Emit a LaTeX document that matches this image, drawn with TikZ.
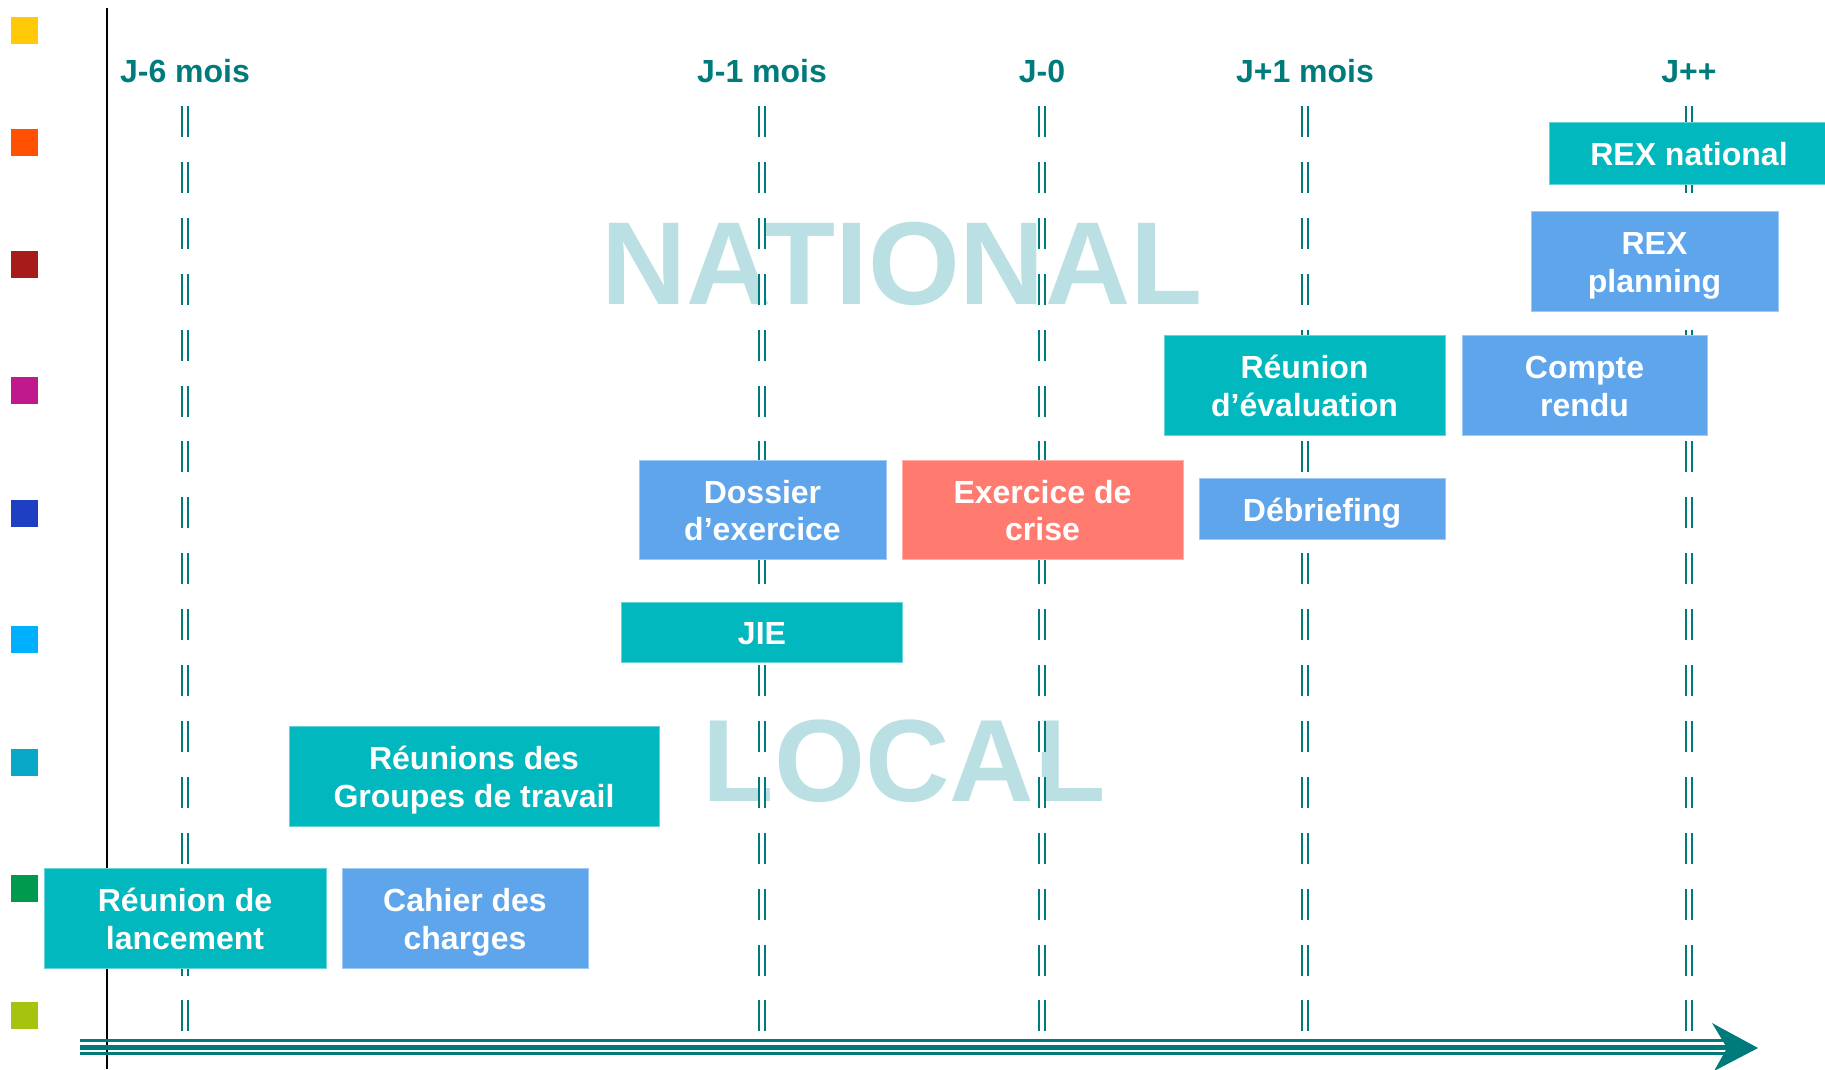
\documentclass[tikz,border=0pt]{standalone}
\usepackage{fontspec}
\setmainfont{Liberation Sans}
\definecolor{sarcelle}{HTML}{007B7B}
\definecolor{filigrane}{HTML}{BBE0E3}
\definecolor{turquoise}{HTML}{00B8BD}
\definecolor{bleuclair}{HTML}{5EA5EB}
\definecolor{saumon}{HTML}{FF7B70}
\definecolor{carreA}{HTML}{FFC907}
\definecolor{carreB}{HTML}{FF5003}
\definecolor{carreC}{HTML}{A71B1B}
\definecolor{carreD}{HTML}{C0198E}
\definecolor{carreE}{HTML}{1F3FC2}
\definecolor{carreF}{HTML}{00B0FF}
\definecolor{carreG}{HTML}{07A9C6}
\definecolor{carreH}{HTML}{009A4E}
\definecolor{carreI}{HTML}{A6C40F}
\newcommand{\bornes}[1]{\rule{0pt}{33pt}#1\rule[-8pt]{0pt}{8pt}}
\begin{document}
\begin{tikzpicture}[x=1pt,y=-1pt,
	jalon/.style={text=sarcelle,font=\fontsize{32}{37}\selectfont\bfseries,anchor=base,inner sep=0pt},
	boite/.style={font=\fontsize{32}{37.7}\selectfont\bfseries,text=white,align=center,inner sep=0pt,line width=1pt},
	colonne/.style={draw=sarcelle,double=white,line width=2.3pt,double distance=4.3pt,dash pattern=on 31pt off 24.9pt}]
	\useasboundingbox (0,0) rectangle (1825,1069);
	\coordinate (J6) at (185,106);
	\coordinate (J1) at (762,106);
	\coordinate (J0) at (1042,106);
	\coordinate (JP1) at (1305,106);
	\coordinate (JPP) at (1689,106);
	\node[text=filigrane,font=\fontsize{118}{118}\selectfont\bfseries,anchor=base] (national) at (902,304) {NATIONAL};% watermark
	\node[text=filigrane,font=\fontsize{117}{117}\selectfont\bfseries,anchor=base] (local) at (904,801) {LOCAL};
	\fill[carreA] (11,17) rectangle ++(27,27);% legend squares
	\fill[carreB] (11,129) rectangle ++(27,27);
	\fill[carreC] (11,250.5) rectangle ++(27,27);
	\fill[carreD] (11,376.5) rectangle ++(27,27);
	\fill[carreE] (11,499.5) rectangle ++(27,27);
	\fill[carreF] (11,625.5) rectangle ++(27,27);
	\fill[carreG] (11,748.5) rectangle ++(27,27);
	\fill[carreH] (11,875) rectangle ++(27,27);
	\fill[carreI] (11,1002) rectangle ++(27,27);
	\draw[line width=2pt] (107,8) -- (107,1069);% vertical axis
	\draw[colonne] (J6) -- ++(0,925);
	\draw[colonne] (J1) -- ++(0,925);
	\draw[colonne] (J0) -- ++(0,925);
	\draw[colonne] (JP1) -- ++(0,925);
	\draw[colonne] (JPP) -- ++(0,925);
	\node[jalon] (t6) at (185,82) {J-6 mois};
	\node[jalon] (t1) at (762,82) {J-1 mois};
	\node[jalon] (t0) at (1042,82) {J-0};
	\node[jalon] (tp1) at (1305,82) {J+1 mois};
	\node[jalon] (tpp) at (1689,82) {J++};
	\draw[sarcelle,line width=2.3pt] (80,1040.5) -- (1727,1040.5);% time arrow
	\draw[sarcelle,line width=5pt] (80,1047.7) -- (1727,1047.7);
	\draw[sarcelle,line width=2.5pt] (80,1053.6) -- (1727,1053.6);
	\fill[sarcelle] (1712,1023) -- (1758,1048) -- (1714,1071) -- (1727,1048) -- cycle;
	\node[boite,fill=turquoise,draw=turquoise!60!white,minimum width=282,minimum height=100] (lancement) at (185,918) {\bornes{Réunion de\\lancement}};
	\node[boite,fill=bleuclair,draw=bleuclair!60!white,minimum width=246,minimum height=100] (cahier) at (465,918) {\bornes{Cahier des\\charges}};
	\node[boite,fill=turquoise,draw=turquoise!60!white,minimum width=370,minimum height=100] (groupes) at (474,776) {\bornes{Réunions des\\Groupes de travail}};
	\node[boite,fill=turquoise,draw=turquoise!60!white,minimum width=281,minimum height=60] (jie) at (762,632) {\bornes{JIE}};
	\node[boite,fill=bleuclair,draw=bleuclair!60!white,minimum width=247,minimum height=99] (dossier) at (762.5,509.5) {\bornes{Dossier\\d’exercice}};
	\node[boite,fill=saumon,draw=saumon!60!white,minimum width=281,minimum height=99] (exercice) at (1042.5,509.5) {\bornes{Exercice de\\crise}};
	\node[boite,fill=bleuclair,draw=bleuclair!60!white,minimum width=246,minimum height=61] (debriefing) at (1322,508.5) {\bornes{Débriefing}};
	\node[boite,fill=turquoise,draw=turquoise!60!white,minimum width=281,minimum height=100] (evaluation) at (1304.5,385) {\bornes{Réunion\\d’évaluation}};
	\node[boite,fill=bleuclair,draw=bleuclair!60!white,minimum width=245,minimum height=100] (compterendu) at (1584.5,385) {\bornes{Compte\\rendu}};
	\node[boite,fill=bleuclair,draw=bleuclair!60!white,minimum width=247,minimum height=100] (rexplanning) at (1654.5,261) {\bornes{REX\\planning}};
	\node[boite,fill=turquoise,draw=turquoise!60!white,minimum width=280,minimum height=62] (rexnational) at (1689,153) {\bornes{REX national}};
\end{tikzpicture}
\end{document}
